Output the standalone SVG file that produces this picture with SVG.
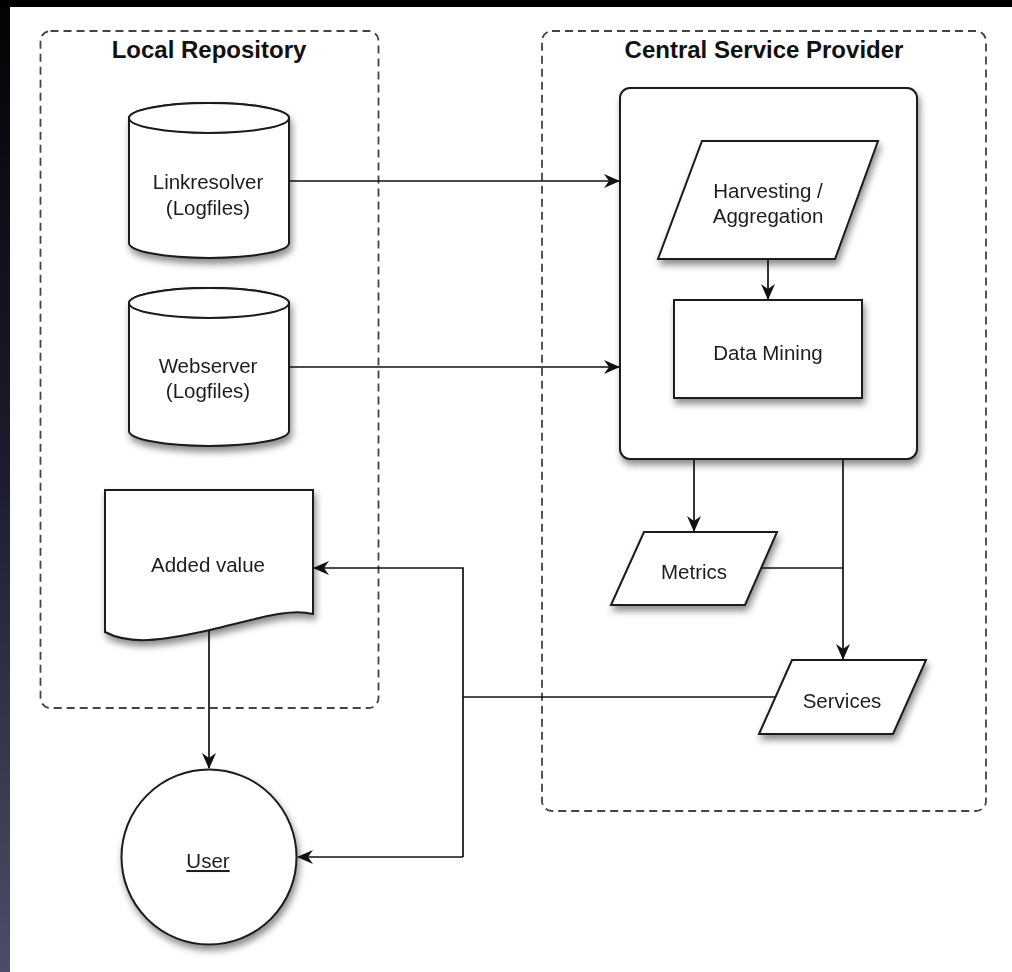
<svg xmlns="http://www.w3.org/2000/svg" width="1012" height="972" viewBox="0 0 1012 972">
  <defs>
    <style>
      .frame { fill: none; stroke: #444; stroke-width: 1.8; stroke-dasharray: 8 5; }
      .title { font-family: "Liberation Sans", Arial, sans-serif; font-weight: bold; font-size: 24px; fill: #111; text-anchor: middle; }
      .shape { fill: #ffffff; stroke: #1a1a1a; stroke-width: 2; }
      .lbl { font-family: "Liberation Sans", Arial, sans-serif; font-size: 20.5px; fill: #1e1e1e; text-anchor: middle; }
      .conn { fill: none; stroke: #111; stroke-width: 1.7; }
      .arrow { marker-end: url(#ah); }
    </style>
    <marker id="ah" viewBox="0 0 16 14" refX="15" refY="7" markerWidth="16" markerHeight="14" markerUnits="userSpaceOnUse" orient="auto">
      <path d="M0,0 L16,7 L0,14 L5,7 Z" fill="#111"/>
    </marker>
    <filter id="sh" x="-20%" y="-20%" width="150%" height="150%">
      <feDropShadow dx="2" dy="5" stdDeviation="3.5" flood-color="#000" flood-opacity="0.45"/>
    </filter>
    <linearGradient id="edge" x1="0" y1="0" x2="0" y2="1">
      <stop offset="0" stop-color="#030306"/>
      <stop offset="0.5" stop-color="#1c1e30"/>
      <stop offset="1" stop-color="#4c4e68"/>
    </linearGradient>
  </defs>

  <rect x="0" y="0" width="1012" height="972" fill="#ffffff"/>
  <rect x="0" y="0" width="10" height="972" fill="url(#edge)"/>
  <rect x="0" y="0" width="1012" height="7" fill="#000"/>

  <g id="local-repository">
    <rect class="frame" x="40.5" y="31" width="338" height="677" rx="10"/>
    <text class="title" x="209" y="58">Local Repository</text>
  </g>
  <g id="central-service-provider">
    <rect class="frame" x="542" y="31" width="444" height="780" rx="10"/>
    <text class="title" x="764" y="58">Central Service Provider</text>
  </g>

  <g id="linkresolver" filter="url(#sh)">
    <path class="shape" d="M129,118 V243 A80,15 0 0 0 289,243 V118 A80,15 0 0 0 129,118 Z"/>
    <ellipse class="shape" cx="209" cy="118" rx="80" ry="15"/>
    <text class="lbl" x="208" y="189">Linkresolver</text>
    <text class="lbl" x="208" y="215">(Logfiles)</text>
  </g>

  <g id="webserver" filter="url(#sh)">
    <path class="shape" d="M129,303 V431 A80,15 0 0 0 289,431 V303 A80,15 0 0 0 129,303 Z"/>
    <ellipse class="shape" cx="209" cy="303" rx="80" ry="15"/>
    <text class="lbl" x="208" y="373">Webserver</text>
    <text class="lbl" x="208" y="398">(Logfiles)</text>
  </g>

  <g id="added-value" filter="url(#sh)">
    <path class="shape" d="M105,490 H313 V614 C290,608 260,618 210,630 C160,641 130,645 105,632 Z"/>
    <text class="lbl" x="208" y="572">Added value</text>
  </g>

  <g id="user" filter="url(#sh)">
    <circle class="shape" cx="209" cy="857" r="87.5"/>
    <text class="lbl" x="208" y="868" text-decoration="underline">User</text>
  </g>

  <g id="central-process" filter="url(#sh)">
    <rect class="shape" x="620" y="88" width="297" height="371" rx="10"/>
  </g>

  <g id="harvesting" filter="url(#sh)">
    <polygon class="shape" points="702,141 878,141 835,259 658,259"/>
    <text class="lbl" x="768" y="198">Harvesting /</text>
    <text class="lbl" x="768" y="223">Aggregation</text>
  </g>

  <g id="data-mining" filter="url(#sh)">
    <rect class="shape" x="674" y="300" width="188" height="98"/>
    <text class="lbl" x="768" y="360">Data Mining</text>
  </g>

  <g id="metrics" filter="url(#sh)">
    <polygon class="shape" points="644,532 777,532 745,605 611,605"/>
    <text class="lbl" x="694" y="579">Metrics</text>
  </g>

  <g id="services" filter="url(#sh)">
    <polygon class="shape" points="792,660 926,660 893,734 759,734"/>
    <text class="lbl" x="842" y="708">Services</text>
  </g>

  <g id="connectors">
    <line class="conn arrow" x1="289" y1="181" x2="619" y2="181"/>
    <line class="conn arrow" x1="289" y1="367" x2="619" y2="367"/>
    <line class="conn arrow" x1="768" y1="260" x2="768" y2="299"/>
    <line class="conn arrow" x1="694" y1="460" x2="694" y2="531"/>
    <line class="conn arrow" x1="843" y1="460" x2="843" y2="659"/>
    <line class="conn" x1="762" y1="568" x2="843" y2="568"/>
    <line class="conn" x1="775" y1="697" x2="463" y2="697"/>
    <polyline class="conn arrow" points="463,857 463,568 314,568"/>
    <line class="conn arrow" x1="463" y1="857" x2="298" y2="857"/>
    <line class="conn arrow" x1="209" y1="631" x2="209" y2="768"/>
  </g>
</svg>
